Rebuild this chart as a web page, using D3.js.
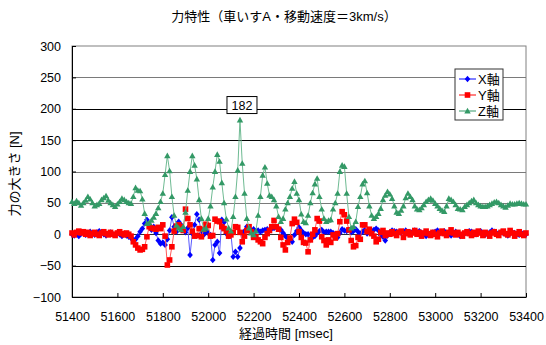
<!DOCTYPE html>
<html>
<head>
<meta charset="utf-8">
<script src="https://cdn.jsdelivr.net/npm/d3@7/dist/d3.min.js"></script>
<style>
    body { margin: 0; background: #fff; }
    text { font-family: "Liberation Sans", "Noto Sans CJK JP", sans-serif; fill: #000; }
</style>
</head>
<body>
<svg id="chart" width="546" height="345"></svg>
<script>
// sampling: one reading every 10 msec starting at 51400
var startTime = 51400;
var stepTime  = 10;

var xTicks = [51400, 51600, 51800, 52000, 52200, 52400, 52600, 52800, 53000, 53200, 53400];
var yTicks = [-100, -50, 0, 50, 100, 150, 200, 250, 300];

var seriesNames = ['X軸', 'Y軸', 'Z軸'];

var xAxisForce = [
    0, -2, 2, -3, 1, 3, -1, 2, 4, 1,
    -1, 3, 5, 2, 0, -2, 1, 3, 0, -1,
    2, 0, -3, 1, -2, -4, -6, -9, -8, -3,
    4, 9, 17, 23, 16, 7, 12, 2, -10, -15,
    -13, -17, -8, 6, 27, 12, 4, 20, 15, 7,
    3, 10, -33, 1, 15, 32, 23, 1, -1, 4,
    2, -1, -41, -17, -12, -30, 23, 19, 1, -3,
    1, -36, -28, -36, -22, 2, 5, 12, 9, 4,
    8, 5, 6, 4, 6, 7, 8, 6, 9, 10,
    11, 9, 7, 2, -3, -6, -8, -12, -1, 5,
    11, 6, 2, 0, 0, -8, -5, -3, 2, 5,
    7, 3, 4, 4, 4, 2, 0, -5, 2, 8,
    6, 5, 7, 3, 5, 8, 4, 1, 4, 7,
    1, 3, 5, 7, 9, 6, -2, -4, -10, -2,
    3, 6, 5, 4, 3, 2, 4, 6, 3, 2,
    4, 6, 3, 5, 2, 1, -3, 0, -1, 3,
    4, 6, 1, 3, 5, 2, 0, -2, 2, 4,
    1, -3, -2, 1, 3, 5, 4, 2, 0, 3,
    5, 2, -1, 1, 3, 6, 4, 2, 1, 3,
    2, 0, -2, 1, 3, 2, 0, -1, 2, 1,
    0
];

var yAxisForce = [
    2, -1, 3, 5, 2, 4, 0, 3, -2, 1,
    3, 0, -2, 2, 4, 1, -1, 3, 0, -2,
    2, 4, 1, -1, 2, 0, -3, -12, -17, -22,
    -25, -24, -20, -4, 12, 10, 9, 8, 11, 9,
    15, -3, -49, -41, -20, 5, 13, 15, 12, 6,
    40, 25, 15, 5, -3, -2, 9, -4, 8, 16,
    14, -3, -2, 24, 21, 20, 12, 9, 5, -3,
    -1, 3, 12, 11, 3, -12, -3, 6, 12, 4,
    -5, -4, -9, -12, -15, -5, 1, 6, 12, 22,
    12, 8, -5, -17, -25, -13, -6, 17, 24, 19,
    4, -5, -13, -14, -28, -9, 0, 7, 25, 21,
    -4, -10, -17, -9, -13, -1, -6, 1, 20, 36,
    31, 21, 7, -10, -20, -18, -5, -8, 15, 15,
    4, 8, 1, -3, -12, -8, 3, 6, -2, 2,
    0, 4, 1, -2, 3, 5, -5, 1, 4, -1,
    2, 6, 0, 3, -3, 2, 5, 1, -2, 3,
    0, -4, 2, 5, 1, -2, 3, 7, 2, -1,
    3, 0, -3, 2, 4, 1, -2, 3, 0, 5,
    2, -2, 3, 1, -3, 2, 4, 0, -2, 3,
    5, 1, -1, 6, 2, -3, 1, 4, 0, -2,
    2
];

var zAxisForce = [
    52, 49, 53, 50, 46, 50, 54, 60, 56, 50,
    45, 47, 49, 55, 58, 61, 54, 50, 47, 44,
    48, 52, 57, 55, 52, 50, 49, 60, 74, 70,
    69, 56, 33, 17, 18, 22, 27, 33, 42, 52,
    65, 95, 125, 101, 60, 30, 14, 10, 7, 12,
    35, 70, 100, 125, 110, 88, 55, 25, 8, 10,
    25, 45, 75, 100, 127, 116, 82, 50, 24, 10,
    5, 28, 60, 102, 182, 113, 65, 25, 10, 2,
    -1, 5, 30, 60, 94, 107, 81, 62, 60, 55,
    45, 28, 20, 25, 40, 50, 60, 73, 84, 65,
    55, 32, 20, 18, 30, 50, 66, 80, 89, 60,
    40, 25, 20, 22, 23, 40, 50, 65, 100, 110,
    108, 65, 28, 10, 12, 20, 44, 60, 80, 85,
    66, 45, 30, 25, 28, 33, 41, 55, 62, 68,
    64, 57, 45, 35, 33, 38, 45, 58, 65, 60,
    55, 45, 40, 39, 42, 47, 52, 55, 57, 54,
    49, 45, 41, 38, 36, 45, 57, 55, 52, 47,
    41, 40, 39, 44, 47, 50, 53, 55, 50, 47,
    45, 44, 44, 45, 47, 49, 51, 52, 50, 47,
    45, 43, 46, 49, 48, 48, 49, 50, 49, 48,
    48
];

var series = [
    { name: seriesNames[0], values: xAxisForce, color: '#0000ff', line: '#5a5aff', shape: 'diamond' },
    { name: seriesNames[1], values: yAxisForce, color: '#ff0000', line: '#ff5a5a', shape: 'square' },
    { name: seriesNames[2], values: zAxisForce, color: '#339966', line: '#6fbb93', shape: 'triangle' }
];

var margin = { top: 46, right: 20, bottom: 48, left: 72 };
var width  = 546 - margin.left - margin.right;
var height = 345 - margin.top - margin.bottom;

var svg = d3.select('#chart');
var g = svg.append('g')
    .attr('transform', `translate(${ margin.left }, ${ margin.top })`)
;

var x = d3.scaleLinear().domain([51400, 53400]).range([0, width]);
var y = d3.scaleLinear().domain([-100, 300]).range([height, 0]);

var fmt = d => d < 0 ? '\u2212' + Math.abs(d) : String(d);

// marker paths
var shapes = {
    diamond:  'M0,-3.2L2.8,0L0,3.2L-2.8,0Z',
    square:   'M-2.8,-2.8H2.8V2.8H-2.8Z',
    triangle: 'M0,-3.2L3.2,2.4L-3.2,2.4Z'
};

// plot frame
g.append('rect')
    .attr('width', width)
    .attr('height', height)
    .attr('fill', '#fff')
    .attr('stroke', '#808080')
;

// gridlines, Excel export renders some dark and some grey
var gridColor = d => (d === 200 || d === 150 || d === -50) ? '#000' : (d === 0 ? '#333' : '#7a7a7a');
g.selectAll('.grid')
    .data(yTicks.filter(d => d > -100 && d < 300))
    .enter().append('line')
    .attr('class', 'grid')
    .attr('x1', 0)
    .attr('x2', width)
    .attr('y1', d => Math.round(y(d)) + 0.5)
    .attr('y2', d => Math.round(y(d)) + 0.5)
    .attr('stroke', gridColor)
    .attr('stroke-width', 1)
;

// axes
var xAxis = d3.axisBottom(x)
    .tickValues(xTicks)
    .tickFormat(d => d)
    .tickSizeInner(-4)
    .tickSizeOuter(0)
    .tickPadding(15)
;
var yAxis = d3.axisLeft(y)
    .tickValues(yTicks)
    .tickFormat(fmt)
    .tickSizeInner(-4)
    .tickSizeOuter(0)
    .tickPadding(11)
;

var gx = g.append('g')
    .attr('transform', `translate(0, ${ height })`)
    .call(xAxis)
;
var gy = g.append('g').call(yAxis);

[gx, gy].forEach(function (ax) {
    ax.select('.domain').attr('stroke', '#000');
    ax.selectAll('.tick line').attr('stroke', '#000');
    ax.selectAll('.tick text')
        .style('font-size', '12.5px')
        .attr('fill', '#000')
    ;
});

// series
var line = d3.line()
    .x((d, i) => x(startTime + i * stepTime))
    .y(d => y(d))
;

series.forEach(function (s) {
    var sg = g.append('g').attr('class', 'series');

    sg.append('path')
        .datum(s.values)
        .attr('d', line)
        .attr('fill', 'none')
        .attr('stroke', s.line)
        .attr('stroke-width', 1)
    ;

    sg.selectAll('.marker')
        .data(s.values)
        .enter().append('path')
        .attr('class', 'marker')
        .attr('transform', (d, i) => `translate(${ x(startTime + i * stepTime) }, ${ y(d) })`)
        .attr('d', shapes[s.shape])
        .attr('fill', s.color)
    ;
});

// data label on the Z peak
var peakIndex = d3.maxIndex(zAxisForce);
var peakX = x(startTime + peakIndex * stepTime);
var peakY = y(zAxisForce[peakIndex]);
var label = g.append('g')
    .attr('transform', `translate(${ peakX + 2 }, ${ peakY - 15 })`)
;
label.append('rect')
    .attr('x', -15)
    .attr('y', -8.5)
    .attr('width', 30)
    .attr('height', 17)
    .attr('fill', '#fff')
    .attr('stroke', '#000')
;
label.append('text')
    .attr('text-anchor', 'middle')
    .attr('dy', '0.36em')
    .style('font-size', '12.5px')
    .text(zAxisForce[peakIndex])
;

// legend
var legend = g.append('g')
    .attr('transform', `translate(${ 455 - margin.left }, ${ 69 - margin.top })`)
;
legend.append('rect')
    .attr('width', 48)
    .attr('height', 51)
    .attr('fill', '#fff')
    .attr('stroke', '#333')
;
series.forEach(function (s, i) {
    var row = legend.append('g').attr('transform', `translate(0, ${ 10 + i * 16 })`);
    row.append('line')
        .attr('x1', 4).attr('x2', 21)
        .attr('stroke', s.color)
    ;
    row.append('path')
        .attr('transform', 'translate(12.5, 0)')
        .attr('d', shapes[s.shape])
        .attr('fill', s.color)
    ;
    row.append('text')
        .attr('x', 23)
        .attr('dy', '0.36em')
        .style('font-size', '13px')
        .text(s.name)
    ;
});

// titles
svg.append('text')
    .attr('x', 284)
    .attr('y', 16)
    .attr('text-anchor', 'middle')
    .attr('dy', '0.36em')
    .style('font-size', '13px')
    .text('力特性（車いすA・移動速度＝3km/s）')
;
svg.append('text')
    .attr('x', 286)
    .attr('y', 333)
    .attr('text-anchor', 'middle')
    .attr('dy', '0.36em')
    .style('font-size', '13px')
    .text('経過時間 [msec]')
;
svg.append('text')
    .attr('transform', 'translate(14, 174) rotate(-90)')
    .attr('text-anchor', 'middle')
    .attr('dy', '0.36em')
    .style('font-size', '13px')
    .text('力の大きさ [N]')
;
</script>
</body>
</html>
